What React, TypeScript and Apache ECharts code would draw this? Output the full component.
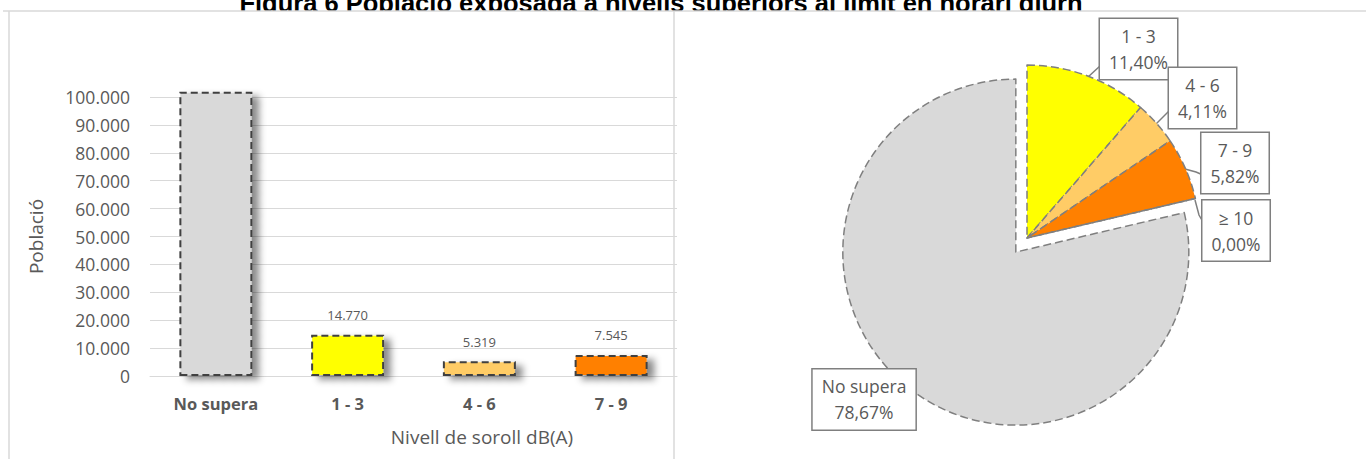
import React, { useEffect, useRef } from "react";
import * as echarts from "echarts";

const titleText = "Figura 6 Població exposada a nivells superiors al límit en horari diürn";

const barCategories = ["No supera", "1 - 3", "4 - 6", "7 - 9"];
const barValues = [101921, 14770, 5319, 7545];
const barColors = ["#d9d9d9", "#ffff00", "#ffcc66", "#ff8000"];
const barShowLabel = [false, true, true, true];

const yMin = 0;
const yMax = 100000;
const yInterval = 10000;
const yAxisName = "Població";
const xAxisName = "Nivell de soroll dB(A)";

const pieCategories = ["1 - 3", "4 - 6", "7 - 9", "≥ 10", "No supera"];
const piePercents = [11.4, 4.11, 5.82, 0.0, 78.67];
const pieColors = ["#ffff00", "#ffcc66", "#ff8000", "#ffc000", "#d9d9d9"];
const pieExploded = [false, false, false, false, true];

const fmtThousands = (v: number) =>
  String(Math.round(v)).replace(/\B(?=(\d{3})+(?!\d))/g, ".");
const fmtPct = (v: number) => v.toFixed(2).replace(".", ",") + "%";

// callout boxes (centre) and pointer geometry, in page pixels
const pieLabelBoxes = [
  { cx: 1138.5, cy: 49, line: [[1088, 77], [1100, 66], [1104, 62]] },
  { cx: 1202.5, cy: 98, line: [[1156, 124], [1166, 114], [1170, 110]] },
  { cx: 1235, cy: 163, line: [[1185, 169], [1196, 172], [1203, 175]] },
  { cx: 1236, cy: 230.5, line: [[1195, 200], [1199, 215], [1203, 222]] },
  { cx: 841.5, cy: 421.5, line: [[907, 387], [898, 392], [893, 396]] },
];

export default function App() {
  const ref = useRef<HTMLDivElement>(null);

  useEffect(() => {
    if (!ref.current) return;
    const chart = echarts.init(ref.current, null, { renderer: "svg" });
    const textColor = "#595959";
    const font = "'Open Sans', 'Noto Sans', sans-serif";

    const option: any = {
      animation: false,
      backgroundColor: "#ffffff",
      textStyle: { fontFamily: font },
      graphic: [
        {
          type: "text",
          z: -20,
          style: {
            text: titleText,
            x: 661,
            y: 2.5,
            align: "center",
            verticalAlign: "middle",
            font: "bold 25.5px 'Liberation Sans', Arial, sans-serif",
            fill: "#000000",
          },
        },
        {
          type: "rect",
          z: -10,
          shape: { x: 0, y: 11, width: 1366, height: 448 },
          style: { fill: "#ffffff" },
        },
        {
          type: "line",
          z: -5,
          shape: { x1: 3, y1: 11, x2: 1366, y2: 11 },
          style: { stroke: "#d9d9d9", lineWidth: 1.5 },
        },
        {
          type: "line",
          z: -5,
          shape: { x1: 9, y1: 11, x2: 9, y2: 459 },
          style: { stroke: "#d9d9d9", lineWidth: 1.5 },
        },
        {
          type: "line",
          z: -5,
          shape: { x1: 674, y1: 11, x2: 674, y2: 459 },
          style: { stroke: "#d9d9d9", lineWidth: 1.5 },
        },
        {
          type: "text",
          style: {
            text: xAxisName,
            x: 482,
            y: 437,
            align: "center",
            verticalAlign: "middle",
            font: `19px ${font}`,
            fill: textColor,
          },
        },
      ],
      grid: { left: 150, right: 1366 - 677, top: 97, bottom: 459 - 376 },
      xAxis: {
        type: "category",
        data: barCategories,
        axisLine: { show: true, lineStyle: { color: "#d9d9d9", width: 1 } },
        axisTick: { show: false },
        axisLabel: {
          color: textColor,
          fontWeight: "bold",
          fontSize: 16.5,
          margin: 19,
          fontFamily: font,
        },
      },
      yAxis: {
        type: "value",
        min: yMin,
        max: yMax,
        interval: yInterval,
        name: yAxisName,
        nameLocation: "middle",
        nameRotate: 90,
        nameGap: 105,
        nameTextStyle: { color: textColor, fontSize: 19, fontFamily: font },
        axisLine: { show: false },
        axisTick: { show: false },
        axisLabel: {
          color: textColor,
          fontSize: 17.5,
          margin: 20,
          fontFamily: font,
          formatter: (v: number) => fmtThousands(v),
        },
        splitLine: { lineStyle: { color: "#d9d9d9", width: 1 } },
      },
      series: [
        {
          type: "bar",
          clip: false,
          barWidth: 73,
          data: barValues.map((v, i) => ({
            value: v,
            itemStyle: {
              color: barColors[i],
              borderColor: "#404040",
              borderWidth: 2,
              borderType: [7, 4],
              shadowColor: "rgba(0,0,0,0.45)",
              shadowBlur: 7,
              shadowOffsetX: 7,
              shadowOffsetY: 4,
            },
            label: { show: barShowLabel[i] },
          })),
          label: {
            show: true,
            position: "top",
            distance: 13,
            color: textColor,
            fontSize: 13,
            fontFamily: font,
            formatter: (p: any) => fmtThousands(p.value),
          },
          emphasis: { disabled: true },
        },
        {
          type: "pie",
          center: [1027, 238],
          radius: 173,
          startAngle: 90,
          clockwise: true,
          selectedMode: "multiple",
          selectedOffset: 18,
          avoidLabelOverlap: false,
          emphasis: { disabled: true },
          data: pieCategories.map((c, i) => ({
            name: c,
            value: piePercents[i],
            selected: pieExploded[i],
            itemStyle: { color: pieColors[i] },
          })),
          itemStyle: {
            borderColor: "#7f7f7f",
            borderWidth: 1.5,
            borderType: [8, 4],
          },
          label: {
            show: true,
            position: "outside",
            formatter: (p: any) => `${p.name}\n${fmtPct(p.value)}`,
            color: textColor,
            fontSize: 17.5,
            lineHeight: 26,
            fontFamily: font,
            align: "center",
            backgroundColor: "#ffffff",
            borderColor: "#7f7f7f",
            borderWidth: 1.5,
            padding: [4, 9],
          },
          labelLine: {
            show: true,
            lineStyle: { color: "#7f7f7f", width: 1.5 },
          },
          labelLayout: (params: any) => {
            const b = pieLabelBoxes[params.dataIndex];
            return {
              x: b.cx,
              y: b.cy,
              align: "center",
              verticalAlign: "middle",
              labelLinePoints: b.line,
            };
          },
        },
      ],
    };

    chart.setOption(option);
    return () => chart.dispose();
  }, []);

  return (
    <div
      ref={ref}
      style={{
        position: "fixed",
        left: 0,
        top: 0,
        width: 1366,
        height: 459,
        background: "#fff",
      }}
    />
  );
}
